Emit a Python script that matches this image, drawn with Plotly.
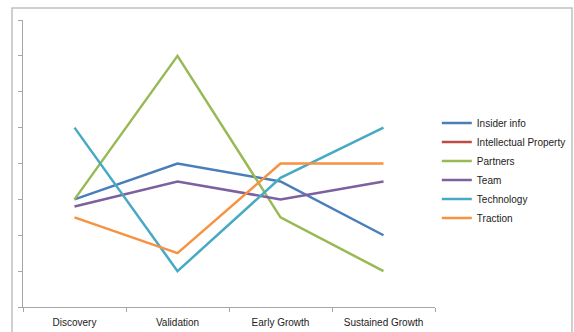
import plotly.graph_objects as go

stages = ["Discovery", "Validation", "Early Growth", "Sustained Growth"]

insider_info = [3.0, 4.0, 3.5, 2.0]
intellectual_property = [None, None, None, None]
partners = [3.0, 7.0, 2.5, 1.0]
team = [2.8, 3.5, 3.0, 3.5]
technology = [5.0, 1.0, 3.6, 5.0]
traction = [2.5, 1.5, 4.0, 4.0]

series = [
    ("Insider info", insider_info, "#4A7EBB"),
    ("Intellectual Property", intellectual_property, "#BE4B48"),
    ("Partners", partners, "#98B954"),
    ("Team", team, "#7D60A0"),
    ("Technology", technology, "#46AAC5"),
    ("Traction", traction, "#F69240"),
]

fig = go.Figure()
for name, values, color in series:
    fig.add_trace(go.Scatter(
        x=stages, y=values, name=name, mode="lines",
        line=dict(color=color, width=2.5),
    ))

fig.update_layout(
    width=574, height=332,
    margin=dict(l=23, r=139, t=20, b=25, autoexpand=False),
    paper_bgcolor="white", plot_bgcolor="white",
    font=dict(family="Liberation Sans, Arial, sans-serif", size=10, color="#222"),
    showlegend=True,
    legend=dict(
        xref="container", yref="container",
        x=0.761, y=0.673, xanchor="left", yanchor="top",
        font=dict(size=10), itemwidth=30, tracegroupgap=0,
        bgcolor="rgba(0,0,0,0)",
    ),
    xaxis=dict(
        type="category", showgrid=False, zeroline=False,
        showline=True, linecolor="#a6a6a6", linewidth=1,
        ticks="outside", tickson="boundaries", ticklen=4, tickcolor="#a6a6a6",
        range=[-0.5, 3.5], ticklabelstandoff=6,
    ),
    yaxis=dict(
        range=[0, 8], dtick=1, showgrid=False, zeroline=False,
        showline=True, linecolor="#a6a6a6", linewidth=1,
        ticks="outside", ticklen=4, tickcolor="#a6a6a6",
        showticklabels=False,
    ),
    shapes=[dict(
        type="rect", xref="paper", yref="paper",
        x0=-0.0267, x1=1.3325, y0=-0.2, y1=1.0418,
        line=dict(color="#c0c0c0", width=1.5), fillcolor="rgba(0,0,0,0)",
        layer="below",
    )],
)

fig.write_html("out.html")
